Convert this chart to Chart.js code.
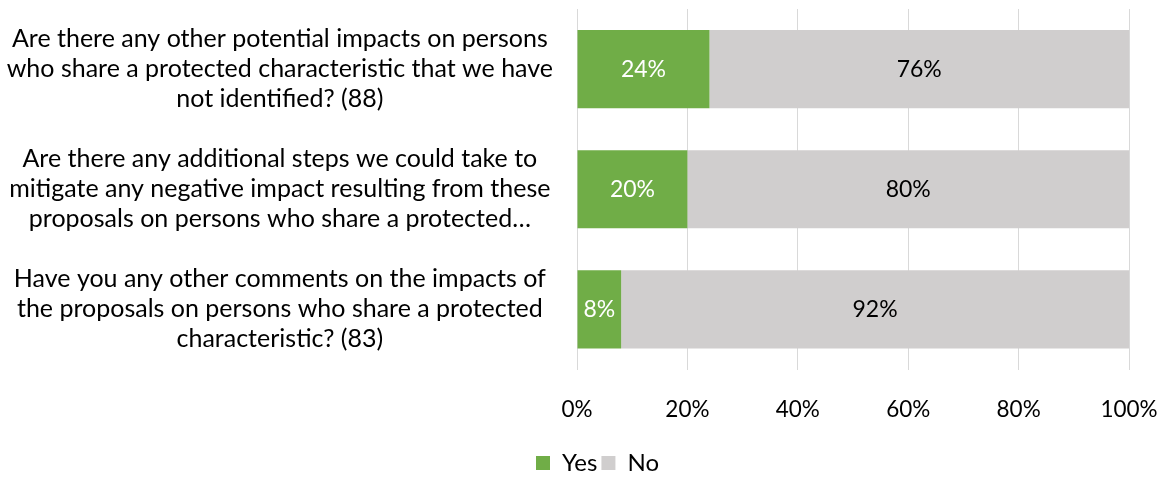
<!DOCTYPE html>
<html>
<head>
<meta charset="utf-8">
<script src="https://cdn.jsdelivr.net/npm/chart.js@4/dist/chart.umd.min.js"></script>
<style>
html,body{margin:0;padding:0;background:#fff;}
#wrap{width:1166px;height:477px;position:relative;}
</style>
</head>
<body>
<div id="wrap"><canvas id="c" width="1166" height="477"></canvas></div>
<script>
const categories = [
  ["Are there any other potential impacts on persons", "who share a protected characteristic that we have", "not identified? (88)"],
  ["Are there any additional steps we could take to", "mitigate any negative impact resulting from these", "proposals on persons who share a protected\u2026"],
  ["Have you any other comments on the impacts of", "the proposals on persons who share a protected", "characteristic? (83)"]
];
const yesValues = [24, 20, 8];
const noValues = [76, 80, 92];
const xTicks = [0, 20, 40, 60, 80, 100];

const FONT = "Lato, 'Open Sans', sans-serif";

const labelPlugin = {
  id: 'barLabels',
  afterDatasetsDraw(chart) {
    const ctx = chart.ctx;
    ctx.save();
    ctx.font = "23px " + FONT;
    ctx.textAlign = 'center';
    ctx.textBaseline = 'middle';
    chart.data.datasets.forEach((ds, di) => {
      const meta = chart.getDatasetMeta(di);
      meta.data.forEach((bar, i) => {
        const p = bar.getProps(['x', 'y', 'base'], true);
        const cx = (p.x + p.base) / 2;
        ctx.fillStyle = di === 0 ? '#ffffff' : '#000000';
        ctx.fillText(ds.data[i] + '%', cx, p.y);
      });
    });
    ctx.restore();
  }
};

const legendShift = {
  id: 'legendShift',
  beforeDraw(chart) {
    const lg = chart.legend;
    if (lg) { lg.left = 66; lg.width = lg.right - lg.left; }
  }
};

new Chart(document.getElementById('c'), {
  type: 'bar',
  data: {
    labels: categories,
    datasets: [
      { label: 'Yes', data: yesValues, backgroundColor: '#70ad47', borderWidth: 0 },
      { label: 'No', data: noValues, backgroundColor: '#d0cece', borderWidth: 0 }
    ]
  },
  options: {
    indexAxis: 'y',
    responsive: false,
    animation: false,
    devicePixelRatio: 1,
    layout: { padding: { top: 9, right: 37, left: 0, bottom: -8 } },
    datasets: { bar: { barPercentage: 0.65, categoryPercentage: 1 } },
    scales: {
      x: {
        stacked: true,
        min: 0, max: 100,
        afterBuildTicks(scale) { scale.ticks = xTicks.map(v => ({ value: v })); },
        grid: { color: '#d9d9d9', lineWidth: 1, drawTicks: false },
        border: { display: false },
        ticks: {
          color: '#000',
          font: { family: FONT, size: 22.5, lineHeight: 1.2 },
          padding: 26.5,
          callback: v => v + '%'
        },
        afterFit(scale) { scale.paddingLeft = 0; scale.paddingRight = 0; scale.height = 77.5; }
      },
      y: {
        stacked: true,
        grid: { display: false },
        border: { display: false },
        ticks: {
          color: '#000',
          font: { family: FONT, size: 25, lineHeight: 1.2 },
          crossAlign: 'center',
          padding: 16
        },
        afterFit(scale) { scale.width = 577; scale.paddingTop = 0; scale.paddingBottom = 0; }
      }
    },
    plugins: {
      legend: {
        position: 'bottom',
        labels: {
          color: '#000',
          font: { family: FONT, size: 24 },
          boxWidth: 14, boxHeight: 14,
          padding: 4
        }
      },
      tooltip: { enabled: false }
    }
  },
  plugins: [labelPlugin, legendShift]
});
</script>
</body>
</html>
